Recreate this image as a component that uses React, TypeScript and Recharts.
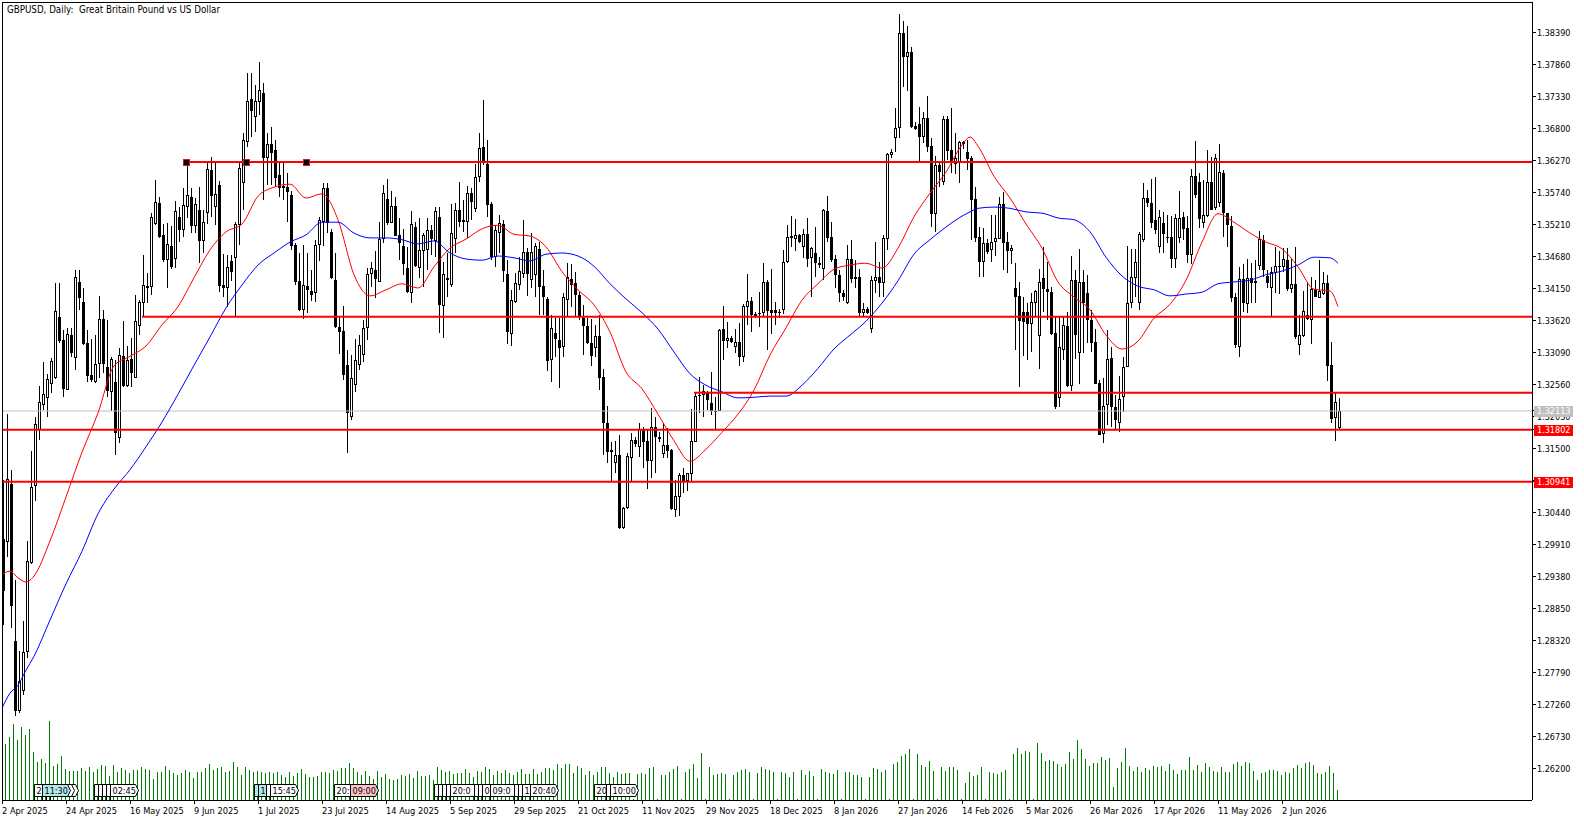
import { Bar, ComposedChart, Line, ReferenceDot, ReferenceLine, XAxis, YAxis } from "recharts"

const font = "'DejaVu Sans Condensed', 'DejaVu Sans', sans-serif"

const dateLabels = [
  "2 Apr 2025", "24 Apr 2025", "16 May 2025", "9 Jun 2025", "1 Jul 2025", "23 Jul 2025", "14 Aug 2025",
  "5 Sep 2025", "29 Sep 2025", "21 Oct 2025", "11 Nov 2025", "29 Nov 2025", "18 Dec 2025", "8 Jan 2026",
  "27 Jan 2026", "14 Feb 2026", "5 Mar 2026", "26 Mar 2026", "17 Apr 2026", "11 May 2026", "2 Jun 2026",
]

const lastPrice = 1.32113
const levelA = 1.31802
const levelB = 1.30941
const levelC = 1.32416
const levelD = 1.33675
const levelE = 1.36237

// the boxed prices come last so they paint over the plain ticks
const priceTicks = [
  1.3839, 1.3786, 1.3733, 1.368, 1.3627, 1.3574, 1.3521, 1.3468, 1.3415, 1.3362, 1.3309, 1.3256, 1.3203, 1.315,
  1.3097, 1.3044, 1.2991, 1.2938, 1.2885, 1.2832, 1.2779, 1.2726, 1.2673, 1.262, lastPrice, levelA, levelB,
]
const boxColors: Record<string, string> = { "1.32113": "#c0c0c0", "1.31802": "#ff0000", "1.30941": "#ff0000" }

// prices are in points (1.31802 -> 13180)
const opens = [
  12999, 12995, 13090, 12830, 12714, 12747, 12812, 12959, 13087, 13180,
  13221, 13233, 13256, 13266, 13367, 13329, 13246, 13337, 13299, 13425,
  13392, 13324, 13271, 13259, 13289, 13364, 13284, 13243, 13259, 13167,
  13302, 13253, 13297, 13266, 13352, 13390, 13418, 13417, 13521, 13556,
  13503, 13461, 13484, 13463, 13532, 13511, 13549, 13566, 13518, 13544,
  13493, 13539, 13610, 13549, 13586, 13420, 13415, 13460, 13465, 13519,
  13589, 13657, 13728, 13698, 13723, 13738, 13630, 13653, 13644, 13602,
  13584, 13582, 13569, 13486, 13427, 13379, 13418, 13410, 13407, 13486,
  13524, 13581, 13508, 13428, 13350, 13344, 13287, 13201, 13254, 13287,
  13304, 13349, 13438, 13445, 13425, 13496, 13562, 13523, 13551, 13503,
  13484, 13448, 13407, 13516, 13448, 13476, 13478, 13511, 13493, 13532,
  13385, 13432, 13420, 13496, 13544, 13528, 13524, 13572, 13546, 13599,
  13649, 13620, 13554, 13466, 13506, 13521, 13438, 13339, 13392, 13420,
  13438, 13475, 13428, 13437, 13480, 13418, 13397, 13296, 13340, 13329,
  13317, 13395, 13430, 13423, 13403, 13365, 13352, 13324, 13316, 13335,
  13268, 13191, 13147, 13125, 13138, 13017, 13051, 13133, 13163, 13152,
  13180, 13162, 13128, 13185, 13168, 13140, 13155, 13147, 13047, 13069,
  13105, 13095, 13107, 13160, 13236, 13238, 13241, 13224, 13211, 13211,
  13347, 13327, 13332, 13317, 13325, 13301, 13384, 13393, 13369, 13374,
  13374, 13425, 13379, 13379, 13375, 13379, 13458, 13501, 13496, 13503,
  13483, 13504, 13465, 13473, 13456, 13446, 13543, 13499, 13463, 13437,
  13407, 13390, 13463, 13430, 13433, 13374, 13380, 13347, 13427, 13433,
  13423, 13496, 13635, 13663, 13680, 13837, 13798, 13806, 13683, 13687,
  13665, 13697, 13650, 13538, 13619, 13591, 13695, 13644, 13620, 13622,
  13657, 13640, 13630, 13562, 13499, 13458, 13490, 13478, 13491, 13496,
  13554, 13491, 13476, 13415, 13402, 13375, 13375, 13355, 13390, 13335,
  13432, 13413, 13408, 13340, 13233, 13312, 13352, 13253, 13428, 13307,
  13425, 13407, 13362, 13326, 13258, 13173, 13221, 13299, 13218, 13191,
  13234, 13284, 13390, 13432, 13390, 13495, 13564, 13556, 13528, 13483,
  13523, 13499, 13499, 13463, 13498, 13533, 13514, 13470, 13601, 13591,
  13523, 13534, 13591, 13547, 13556, 13605, 13539, 13518, 13400, 13317,
  13430, 13388, 13432, 13423, 13451, 13495, 13435, 13415, 13440, 13450,
  13450, 13461, 13413, 13422, 13321, 13335, 13370, 13362, 13413, 13398,
  13405, 13423, 13287, 13200, 13183,
]
const highs = [
  13097, 13206, 13114, 12931, 12814, 12863, 12996, 13145, 13201, 13253,
  13292, 13272, 13299, 13423, 13423, 13345, 13349, 13349, 13445, 13445,
  13415, 13345, 13331, 13337, 13402, 13379, 13362, 13301, 13296, 13316,
  13360, 13319, 13332, 13403, 13395, 13470, 13440, 13539, 13594, 13566,
  13521, 13523, 13518, 13559, 13549, 13581, 13624, 13581, 13564, 13582,
  13544, 13624, 13632, 13624, 13592, 13471, 13470, 13470, 13524, 13624,
  13672, 13771, 13771, 13751, 13789, 13754, 13672, 13682, 13660, 13622,
  13622, 13605, 13576, 13490, 13473, 13486, 13473, 13445, 13495, 13533,
  13589, 13589, 13513, 13473, 13367, 13385, 13312, 13304, 13331, 13337,
  13362, 13448, 13458, 13476, 13524, 13586, 13596, 13576, 13566, 13531,
  13513, 13483, 13543, 13524, 13531, 13506, 13531, 13519, 13549, 13549,
  13458, 13473, 13554, 13556, 13591, 13561, 13584, 13581, 13620, 13672,
  13726, 13660, 13557, 13519, 13536, 13528, 13461, 13412, 13440, 13466,
  13528, 13481, 13506, 13490, 13491, 13445, 13400, 13370, 13365, 13365,
  13407, 13456, 13455, 13442, 13408, 13387, 13365, 13364, 13354, 13370,
  13281, 13220, 13160, 13162, 13171, 13052, 13142, 13175, 13168, 13191,
  13185, 13180, 13216, 13201, 13176, 13191, 13183, 13148, 13097, 13109,
  13117, 13109, 13215, 13241, 13268, 13254, 13244, 13276, 13234, 13347,
  13385, 13359, 13335, 13347, 13357, 13388, 13438, 13400, 13375, 13408,
  13456, 13428, 13446, 13392, 13380, 13478, 13519, 13534, 13529, 13504,
  13513, 13531, 13483, 13516, 13466, 13546, 13567, 13524, 13470, 13445,
  13412, 13486, 13495, 13461, 13446, 13390, 13384, 13435, 13491, 13458,
  13503, 13639, 13645, 13713, 13869, 13857, 13849, 13814, 13690, 13715,
  13706, 13733, 13663, 13634, 13624, 13700, 13700, 13713, 13672, 13658,
  13658, 13660, 13634, 13582, 13516, 13514, 13496, 13536, 13536, 13566,
  13574, 13508, 13486, 13456, 13425, 13400, 13390, 13407, 13412, 13446,
  13483, 13458, 13417, 13369, 13367, 13367, 13375, 13468, 13445, 13480,
  13445, 13437, 13379, 13347, 13263, 13266, 13345, 13317, 13238, 13269,
  13301, 13485, 13480, 13480, 13508, 13589, 13577, 13596, 13599, 13544,
  13541, 13536, 13534, 13538, 13576, 13541, 13534, 13612, 13658, 13605,
  13594, 13644, 13632, 13637, 13653, 13610, 13539, 13534, 13407, 13450,
  13455, 13463, 13456, 13461, 13509, 13503, 13445, 13450, 13483, 13476,
  13481, 13481, 13463, 13483, 13370, 13410, 13423, 13433, 13428, 13461,
  13442, 13437, 13325, 13241, 13233,
]
const lows = [
  12857, 12969, 12852, 12706, 12711, 12741, 12802, 12958, 13062, 13163,
  13213, 13201, 13241, 13264, 13324, 13234, 13246, 13301, 13279, 13379,
  13321, 13259, 13259, 13258, 13266, 13274, 13234, 13211, 13138, 13158,
  13251, 13251, 13251, 13266, 13337, 13367, 13390, 13403, 13519, 13498,
  13458, 13415, 13446, 13448, 13491, 13499, 13531, 13506, 13506, 13456,
  13473, 13521, 13533, 13519, 13408, 13400, 13384, 13427, 13369, 13486,
  13544, 13649, 13665, 13673, 13701, 13561, 13586, 13586, 13582, 13566,
  13561, 13524, 13478, 13420, 13377, 13364, 13374, 13393, 13392, 13460,
  13484, 13506, 13430, 13349, 13306, 13263, 13142, 13196, 13243, 13279,
  13292, 13329, 13417, 13398, 13425, 13490, 13519, 13523, 13501, 13461,
  13437, 13407, 13390, 13450, 13432, 13417, 13445, 13470, 13466, 13340,
  13332, 13400, 13417, 13473, 13516, 13508, 13498, 13528, 13541, 13591,
  13619, 13533, 13461, 13450, 13473, 13425, 13322, 13319, 13390, 13412,
  13432, 13402, 13415, 13400, 13370, 13370, 13277, 13259, 13301, 13249,
  13301, 13367, 13384, 13367, 13362, 13304, 13322, 13286, 13301, 13246,
  13138, 13125, 13094, 13109, 13016, 13016, 13049, 13094, 13152, 13135,
  13117, 13082, 13100, 13109, 13160, 13133, 13133, 13047, 13036, 13037,
  13075, 13079, 13094, 13160, 13208, 13201, 13213, 13205, 13180, 13211,
  13296, 13316, 13324, 13307, 13286, 13292, 13354, 13342, 13365, 13350,
  13367, 13312, 13339, 13354, 13365, 13372, 13456, 13483, 13476, 13490,
  13465, 13450, 13400, 13433, 13448, 13428, 13491, 13458, 13415, 13392,
  13393, 13388, 13423, 13415, 13367, 13367, 13372, 13340, 13407, 13400,
  13400, 13478, 13630, 13640, 13663, 13748, 13741, 13680, 13677, 13624,
  13655, 13640, 13516, 13508, 13582, 13586, 13627, 13605, 13604, 13589,
  13645, 13610, 13495, 13491, 13433, 13433, 13471, 13458, 13468, 13496,
  13445, 13440, 13455, 13312, 13251, 13302, 13296, 13309, 13367, 13281,
  13375, 13362, 13337, 13215, 13218, 13296, 13251, 13244, 13297, 13256,
  13307, 13324, 13309, 13256, 13171, 13158, 13188, 13185, 13180, 13176,
  13210, 13284, 13382, 13400, 13379, 13491, 13549, 13514, 13504, 13473,
  13473, 13490, 13448, 13448, 13490, 13495, 13456, 13455, 13564, 13514,
  13514, 13533, 13544, 13544, 13549, 13499, 13483, 13392, 13316, 13301,
  13375, 13374, 13390, 13390, 13445, 13433, 13415, 13367, 13407, 13405,
  13442, 13410, 13407, 13331, 13304, 13334, 13362, 13322, 13400, 13398,
  13403, 13261, 13191, 13162, 13181,
]
const closes = [
  12913, 13099, 12888, 12714, 12764, 12812, 12963, 13085, 13190, 13226,
  13239, 13264, 13294, 13377, 13327, 13248, 13339, 13307, 13433, 13398,
  13322, 13269, 13263, 13289, 13364, 13289, 13244, 13297, 13175, 13304,
  13253, 13296, 13274, 13360, 13392, 13420, 13415, 13532, 13557, 13499,
  13461, 13488, 13450, 13543, 13511, 13552, 13569, 13518, 13554, 13493,
  13524, 13612, 13567, 13571, 13418, 13415, 13450, 13442, 13521, 13614,
  13660, 13725, 13708, 13725, 13743, 13630, 13653, 13639, 13597, 13581,
  13581, 13574, 13484, 13425, 13379, 13420, 13412, 13403, 13486, 13528,
  13581, 13523, 13432, 13350, 13342, 13271, 13208, 13266, 13296, 13321,
  13349, 13438, 13448, 13430, 13496, 13572, 13523, 13551, 13501, 13490,
  13455, 13408, 13521, 13451, 13478, 13503, 13511, 13496, 13543, 13387,
  13438, 13428, 13506, 13544, 13524, 13524, 13572, 13557, 13599, 13647,
  13622, 13552, 13466, 13511, 13523, 13443, 13342, 13395, 13423, 13443,
  13475, 13438, 13475, 13485, 13417, 13400, 13294, 13349, 13331, 13316,
  13400, 13433, 13420, 13403, 13369, 13352, 13324, 13302, 13335, 13266,
  13191, 13143, 13143, 13138, 13017, 13051, 13137, 13163, 13157, 13181,
  13160, 13128, 13185, 13168, 13165, 13155, 13145, 13049, 13070, 13105,
  13095, 13108, 13162, 13236, 13238, 13244, 13229, 13211, 13210, 13346,
  13327, 13332, 13325, 13325, 13301, 13385, 13393, 13370, 13372, 13372,
  13425, 13377, 13374, 13374, 13374, 13458, 13499, 13498, 13503, 13491,
  13504, 13463, 13481, 13456, 13453, 13544, 13498, 13461, 13437, 13407,
  13400, 13463, 13430, 13433, 13374, 13380, 13374, 13428, 13433, 13423,
  13498, 13637, 13640, 13680, 13837, 13798, 13806, 13682, 13678, 13665,
  13697, 13649, 13538, 13619, 13607, 13695, 13642, 13622, 13630, 13657,
  13653, 13629, 13561, 13498, 13458, 13490, 13475, 13491, 13498, 13554,
  13490, 13476, 13481, 13400, 13360, 13359, 13355, 13392, 13410, 13425,
  13413, 13408, 13339, 13218, 13317, 13354, 13253, 13428, 13337, 13425,
  13390, 13362, 13324, 13256, 13171, 13220, 13297, 13218, 13196, 13231,
  13284, 13390, 13433, 13458, 13504, 13564, 13556, 13523, 13511, 13533,
  13504, 13498, 13463, 13531, 13531, 13513, 13470, 13601, 13569, 13529,
  13536, 13591, 13544, 13630, 13607, 13539, 13519, 13398, 13321, 13430,
  13390, 13432, 13423, 13427, 13496, 13445, 13423, 13442, 13451, 13451,
  13463, 13413, 13422, 13334, 13337, 13377, 13364, 13413, 13400, 13410,
  13423, 13286, 13198, 13226, 13211,
]

// tick volume in thousands
const volumes = [
  50, 56, 63, 76, 60, 73, 65, 71, 48, 38, 41, 37, 79, 34, 36, 44, 31, 29, 29, 29,
  32, 29, 33, 28, 31, 35, 34, 24, 35, 28, 32, 30, 27, 30, 30, 33, 31, 30, 21, 28,
  28, 34, 30, 27, 25, 27, 30, 28, 22, 28, 28, 32, 36, 30, 32, 33, 28, 29, 38, 33,
  25, 33, 30, 28, 29, 28, 27, 28, 27, 28, 25, 23, 28, 24, 27, 31, 26, 23, 23, 24,
  28, 28, 27, 30, 29, 32, 32, 37, 32, 28, 25, 29, 24, 21, 29, 23, 26, 21, 20, 21,
  25, 24, 26, 22, 29, 24, 24, 25, 20, 33, 30, 28, 29, 26, 27, 27, 31, 27, 23, 29,
  28, 33, 31, 25, 29, 27, 30, 27, 25, 28, 31, 26, 26, 31, 26, 28, 32, 32, 30, 36,
  32, 36, 36, 27, 34, 32, 25, 29, 25, 28, 33, 33, 27, 23, 28, 26, 27, 27, 1, 26,
  27, 26, 32, 33, 1, 25, 25, 28, 31, 34, 1, 28, 31, 36, 22, 47, 1, 33, 25, 26,
  27, 26, 1, 25, 28, 30, 31, 28, 1, 27, 33, 31, 30, 28, 1, 28, 27, 23, 28, 1,
  30, 25, 29, 24, 1, 31, 28, 27, 26, 30, 1, 28, 28, 25, 25, 23, 1, 23, 32, 31,
  28, 30, 1, 36, 38, 44, 46, 51, 1, 46, 35, 33, 39, 29, 1, 33, 29, 33, 33, 30,
  1, 17, 28, 24, 25, 33, 1, 28, 27, 26, 28, 30, 1, 46, 52, 46, 49, 48, 1, 57,
  47, 39, 40, 39, 36, 33, 36, 48, 41, 60, 51, 41, 34, 37, 37, 43, 40, 42, 13, 32,
  38, 52, 34, 29, 33, 28, 32, 30, 34, 33, 34, 29, 36, 30, 26, 30, 30, 43, 30, 35,
  28, 37, 33, 29, 28, 33, 28, 28, 36, 38, 34, 38, 37, 29, 20, 27, 28, 30, 30, 29,
  25, 28, 27, 32, 35, 32, 37, 38, 35, 27, 26, 28, 34, 27, 10,
]

// moving averages, read every fourth bar plus a few turning points and the last bar
const redMa = [
  12940, 12946, 12935, 12928, 12938, 12996, 13069, 13143, 13208, 13286, 13302, 13319, 13354, 13384, 13432, 13478, 13508, 13521, 13567,
  13582, 13587, 13564, 13571, 13528, 13437, 13402, 13412, 13422, 13415, 13450, 13481, 13496, 13513, 13519, 13504, 13501,
  13483, 13442, 13412, 13387, 13342, 13276, 13248, 13206, 13162, 13128, 13148, 13176, 13206, 13246, 13304, 13349, 13395,
  13422, 13446, 13453, 13456, 13448, 13481, 13533, 13572, 13607, 13652, 13665, 13650, 13600, 13564, 13521, 13481, 13425, 13400,
  13379, 13337, 13314, 13327, 13365, 13388, 13428, 13491, 13538, 13524, 13506, 13491, 13480, 13450, 13413, 13410, 13384,
]
const blueMa = [
  12719, 12744, 12757, 12782, 12805, 12865, 12925, 12979, 13041, 13082, 13114, 13152, 13193, 13239, 13287, 13334, 13382, 13420, 13453,
  13473, 13491, 13503, 13524, 13524, 13506, 13498, 13498, 13495, 13488, 13493, 13473, 13463, 13461, 13468, 13465, 13460,
  13471, 13473, 13468, 13451, 13422, 13397, 13374, 13347, 13309, 13273, 13254, 13243, 13233, 13234, 13236, 13236, 13254,
  13282, 13314, 13337, 13360, 13390, 13427, 13471, 13495, 13516, 13534, 13541, 13547, 13549, 13547, 13541, 13539, 13531, 13528,
  13508, 13466, 13435, 13418, 13412, 13402, 13405, 13408, 13422, 13425, 13428, 13437, 13443, 13453, 13466, 13465, 13456,
]

const anchorBars = [46, 61, 76]

// event tags along the bottom, in drawing order; stubs only show what sticks out from under the next tag
const tagBars = [
  12, 11, 8, 10, 23, 24, 25, 26, 27, 63, 64, 66, 67, 83, 87, 108, 109, 110, 111, 112, 118, 119, 120, 122, 128, 129, 130,
  132, 148, 151, 152,
]
const tagTexts = [
  "", "", "2", "11:30", "", "", "", "", "02:45", "", "1", "", "15:45",
  "20:", "09:00", "", "", "", "", "20:0", "", "", "0", "09:0", "", "",
  "1", "20:40", "20", "", "10:00",
]
const tagColors = [
  "w", "w", "w", "c", "w", "w", "w", "w", "w", "c", "c", "w", "w", "w", "p", "w", "w", "w", "w", "w", "w", "w", "w", "w",
  "w", "w", "w", "w", "w", "w", "w",
]
const tagFill: Record<string, string> = { w: "#ffffff", c: "#b0e8ec", p: "#ffc0cb" }

const maBars = opens.map((_, i) => i).filter((i) => i % 4 === 0 || i === 2 || i === 6 || i === 242 || i === 334)

const data = opens.map((open, i) => {
  const m = maBars.indexOf(i)
  return {
    bar: i,
    open: open / 10000,
    high: highs[i] / 10000,
    low: lows[i] / 10000,
    close: closes[i] / 10000,
    volume: volumes[i],
    red: m >= 0 ? redMa[m] / 10000 : null,
    blue: m >= 0 ? blueMa[m] / 10000 : null,
  }
})

const Candle = (props: any) => {
  const { x, y, width, height, payload } = props
  const xc = Math.round(x + width / 2)
  const top = Math.min(y, y + height)
  const h = Math.abs(height)
  const perUnit = payload.high > payload.low ? h / (payload.high - payload.low) : 0
  const up = payload.close >= payload.open
  const bodyTop = top + (payload.high - Math.max(payload.open, payload.close)) * perUnit
  const bodyH = Math.max(1, Math.abs(payload.close - payload.open) * perUnit)
  return (
    <g shapeRendering="crispEdges">
      <rect x={xc} y={top} width={1} height={h} fill="#000" />
      <rect x={xc - 1} y={bodyTop} width={3} height={bodyH} fill="#000" />
      {up && bodyH > 2 && <rect x={xc} y={bodyTop + 1} width={1} height={bodyH - 2} fill="#fff" />}
    </g>
  )
}

const VolumeBar = (props: any) => {
  const { x, y, width, height } = props
  return <rect x={Math.round(x + width / 2)} y={y} width={1} height={height} fill="#008000" shapeRendering="crispEdges" />
}

const DateTick = (props: any) => {
  const { x, payload } = props
  return (
    <text x={x} y={814} fontSize={9.2} fontFamily={font} fill="#000" textAnchor="start">
      {dateLabels[payload.value / 16]}
    </text>
  )
}

const PriceTick = (props: any) => {
  const { y, payload } = props
  const label = payload.value.toFixed(5)
  const box = boxColors[label]
  return (
    <g>
      {box && <rect x={1534} y={Math.round(y) - 5} width={39} height={11} fill={box} shapeRendering="crispEdges" />}
      <text x={1537} y={y + 3.5} fontSize={9} fontFamily={font} fill={box ? "#fff" : "#000"}>
        {label}
      </text>
    </g>
  )
}

const Anchor = (props: any) => (
  <rect
    x={Math.round(props.cx) - 3}
    y={Math.round(props.cy) - 3}
    width={6}
    height={6}
    fill="#000"
    stroke="#c81e1e"
    shapeRendering="crispEdges"
  />
)

const EventTag = (props: any) => {
  const { cx, cy, text, fill } = props
  const x = Math.round(cx)
  const y = Math.round(cy)
  return (
    <g>
      <line x1={x + 0.5} x2={x + 0.5} y1={y + 6} y2={y + 10} stroke="#000" />
      <path d={`M${x + 0.5} ${y - 5.5}h25l3 6l-3 6h-25z`} fill={fill} stroke="#000" />
      <text x={x + 2.5} y={y + 4} fontSize={9} fontFamily={font} fill="#000">
        {text}
      </text>
    </g>
  )
}

export default function App() {
  return (
    <div style={{ position: "absolute", left: 0, top: 0, width: 1584, height: 821, background: "#fff" }}>
      <ComposedChart width={1584} height={821} data={data} margin={{ top: 2, right: 0, bottom: 0, left: 2 }}>
        <XAxis
          dataKey="bar"
          type="number"
          domain={[0, 382.5]}
          allowDataOverflow
          ticks={dateLabels.map((_, k) => k * 16)}
          interval={0}
          height={21}
          tickSize={4}
          tick={DateTick}
          axisLine={{ stroke: "#000", shapeRendering: "crispEdges" }}
          tickLine={{ stroke: "#000", shapeRendering: "crispEdges" }}
        />
        <YAxis
          yAxisId="price"
          orientation="right"
          type="number"
          domain={[1.2567, 1.38887]}
          allowDataOverflow
          ticks={priceTicks}
          interval={0}
          width={52}
          tickSize={4}
          tick={PriceTick}
          axisLine={{ stroke: "#000", shapeRendering: "crispEdges" }}
          tickLine={{ stroke: "#000", shapeRendering: "crispEdges" }}
        />
        <YAxis yAxisId="volume" hide type="number" domain={[0, 798]} allowDataOverflow />

        <ReferenceLine yAxisId="price" y={lastPrice} stroke="#c0c0c0" strokeWidth={1} />

        <Bar yAxisId="volume" dataKey="volume" barSize={1} shape={VolumeBar} isAnimationActive={false} />
        <Bar
          yAxisId="price"
          dataKey={(d: any) => [d.low, d.high]}
          barSize={3}
          shape={Candle}
          isAnimationActive={false}
        />
        <Line yAxisId="price" dataKey="red" type="monotone" stroke="#ff0000" strokeWidth={1} dot={false} connectNulls isAnimationActive={false} />
        <Line yAxisId="price" dataKey="blue" type="monotone" stroke="#0000ff" strokeWidth={1} dot={false} connectNulls isAnimationActive={false} />

        <ReferenceLine yAxisId="price" segment={[{ x: 46, y: levelE }, { x: 382.5, y: levelE }]} stroke="#ff0000" strokeWidth={2} />
        <ReferenceLine yAxisId="price" segment={[{ x: 35, y: levelD }, { x: 382.5, y: levelD }]} stroke="#ff0000" strokeWidth={2} />
        <ReferenceLine yAxisId="price" segment={[{ x: 173, y: levelC }, { x: 382.5, y: levelC }]} stroke="#ff0000" strokeWidth={2} />
        <ReferenceLine yAxisId="price" y={levelA} stroke="#ff0000" strokeWidth={2} />
        <ReferenceLine yAxisId="price" y={levelB} stroke="#ff0000" strokeWidth={2} />

        {anchorBars.map((b) => (
          <ReferenceDot key={b} yAxisId="price" x={b} y={levelE} shape={Anchor} />
        ))}
        {tagBars.map((b, i) => (
          <ReferenceDot
            key={i}
            yAxisId="volume"
            x={b}
            y={10}
            shape={(p: any) => <EventTag {...p} text={tagTexts[i]} fill={tagFill[tagColors[i]]} />}
          />
        ))}
        <ReferenceLine yAxisId="price" x={0} stroke="#000" shapeRendering="crispEdges" />
        <ReferenceLine yAxisId="price" y={1.38887} stroke="#000" shapeRendering="crispEdges" />
      </ComposedChart>
      <div style={{ position: "absolute", left: 7, top: 4, fontFamily: font, fontSize: 9.7, whiteSpace: "pre", color: "#000" }}>
        {"GBPUSD, Daily:  Great Britain Pound vs US Dollar"}
      </div>
    </div>
  )
}
